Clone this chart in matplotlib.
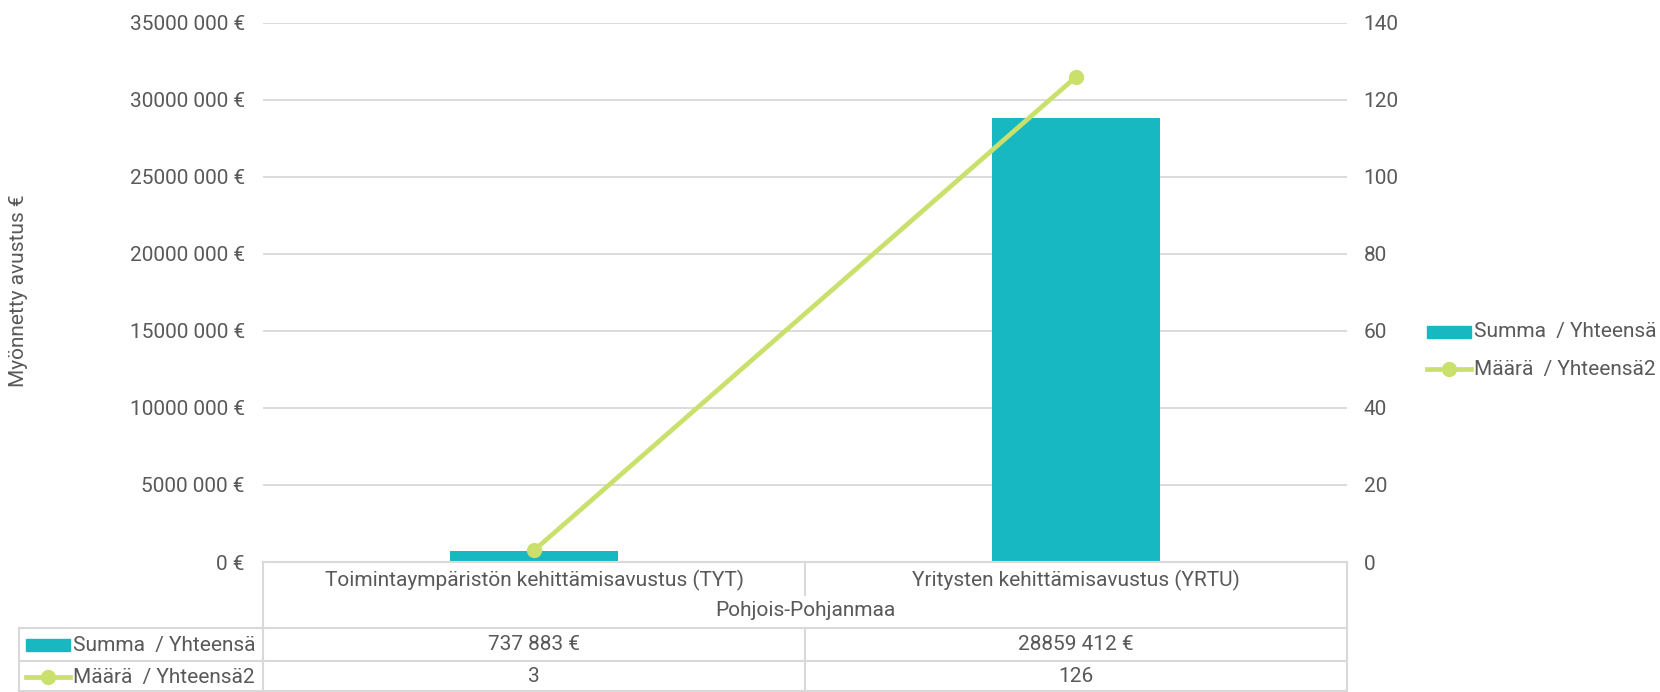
import matplotlib
matplotlib.use('Agg')
import matplotlib.pyplot as plt
from matplotlib.lines import Line2D
from matplotlib.patches import Rectangle

# data
categories = ['Toimintaympäristön kehittämisavustus (TYT)', 'Yritysten kehittämisavustus (YRTU)']
region = 'Pohjois-Pohjanmaa'
summa = [737883, 28859412]
maara = [3, 126]
summa_label = 'Summa  / Yhteensä'
maara_label = 'Määrä  / Yhteensä2'

bar_color = '#17b8c1'
line_color = '#c9e16c'
grid_color = '#d9d9d9'
text_color = '#595959'

plt.rcParams['font.family'] = ['Roboto', 'DejaVu Sans']
FS = 15

W, H = 1660, 692
fig = plt.figure(figsize=(W / 100, H / 100), dpi=100)


def fx(px):
    return px / W


def fy(py):
    return 1 - py / H


def euro(v):
    v = int(round(v))
    if v < 1000:
        return f'{v} €'
    return f'{v // 1000} {v % 1000:03d} €'


left, right, top, bottom = 263, 1347, 23, 562
ax = fig.add_axes([fx(left), fy(bottom), fx(right - left), (bottom - top) / H])
x = list(range(len(categories)))
ax.bar(x, summa, width=0.31, color=bar_color, zorder=2)
ax.set_xlim(-0.5, len(categories) - 0.5)
ax.set_ylim(0, 35000000)
ax.set_yticks(range(0, 35000001, 5000000))
ax.set_yticklabels([euro(v) for v in range(0, 35000001, 5000000)])
ax.set_xticks([])
ax.grid(axis='y', color=grid_color, linewidth=1.3, zorder=0)
for s in ax.spines.values():
    s.set_visible(False)
ax.tick_params(axis='y', length=0, pad=13, labelsize=FS, labelcolor=text_color)

fig.text(fx(19), fy(291), 'Myönnetty avustus €', rotation=90, fontsize=FS, color=text_color,
         ha='center', va='center')

ax2 = ax.twinx()
ax2.plot(x, maara, color=line_color, linewidth=3.4, marker='o', markersize=10, zorder=3)
ax2.set_ylim(0, 140)
ax2.set_yticks(range(0, 141, 20))
for s in ax2.spines.values():
    s.set_visible(False)
ax2.tick_params(axis='y', length=0, pad=12, labelsize=FS, labelcolor=text_color)

# legend on the right
fig.patches.append(Rectangle((fx(1427), fy(338)), fx(44), 12 / H, color=bar_color,
                             transform=fig.transFigure))
fig.text(fx(1474), fy(332), summa_label, fontsize=FS, color=text_color, va='center')
fig.add_artist(Line2D([fx(1427), fx(1471)], [fy(369), fy(369)], color=line_color,
                      linewidth=3.4, transform=fig.transFigure))
fig.add_artist(Line2D([fx(1449)], [fy(369)], color=line_color, marker='o', markersize=10,
                      transform=fig.transFigure))
fig.text(fx(1474), fy(369), maara_label, fontsize=FS, color=text_color, va='center')

# data table
def hline(x0, x1, y):
    fig.add_artist(Line2D([fx(x0), fx(x1)], [fy(y), fy(y)], color=grid_color, linewidth=1.5))


def vline(xp, y0, y1):
    fig.add_artist(Line2D([fx(xp), fx(xp)], [fy(y0), fy(y1)], color=grid_color, linewidth=1.5))


mid = (left + right) / 2
hline(left, right, 562)
hline(19, right, 628)
hline(19, right, 661)
hline(19, right, 691)
vline(left, 562, 692)
vline(right, 562, 692)
vline(mid, 562, 595)
vline(mid, 628, 692)
vline(19, 628, 692)

cx = [left + (right - left) * (i + 0.5) / len(categories) for i in x]
for i, c in enumerate(categories):
    fig.text(fx(cx[i]), fy(580), c, fontsize=FS, color=text_color, ha='center', va='center')
    fig.text(fx(cx[i]), fy(645), euro(summa[i]), fontsize=FS, color=text_color, ha='center', va='center')
    fig.text(fx(cx[i]), fy(677), str(maara[i]), fontsize=FS, color=text_color, ha='center', va='center')
fig.text(fx(mid), fy(611), region, fontsize=FS, color=text_color, ha='center', va='center')

fig.patches.append(Rectangle((fx(26), fy(651)), fx(44), 12 / H, color=bar_color,
                             transform=fig.transFigure))
fig.text(fx(73), fy(645), summa_label, fontsize=FS, color=text_color, va='center')
fig.add_artist(Line2D([fx(26), fx(70)], [fy(677), fy(677)], color=line_color, linewidth=3.4,
                      transform=fig.transFigure))
fig.add_artist(Line2D([fx(48)], [fy(677)], color=line_color, marker='o', markersize=10,
                      transform=fig.transFigure))
fig.text(fx(73), fy(677), maara_label, fontsize=FS, color=text_color, va='center')

fig.savefig('out.png', dpi=100)
